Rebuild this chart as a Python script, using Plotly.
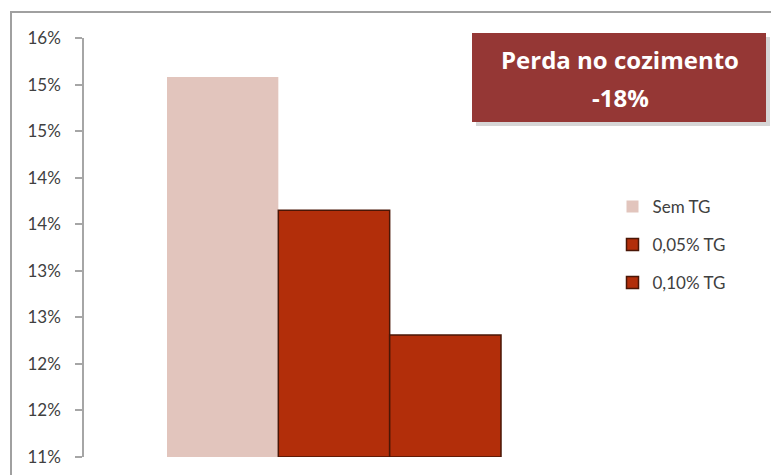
import plotly.graph_objects as go

categories = [""]
series_names = ["Sem TG", "0,05% TG", "0,10% TG"]
series_values = [15.08, 13.65, 12.31]
tick_vals = [11.0, 11.5, 12.0, 12.5, 13.0, 13.5, 14.0, 14.5, 15.0, 15.5]
tick_labels = ["11%", "12%", "12%", "13%", "13%", "14%", "14%", "15%", "15%", "16%"]
box_title = "Perda no cozimento"
box_value = "-18%"

colors = ["#E2C5BD", "#B22E0A", "#B22E0A"]
line_colors = ["#E2C5BD", "#4A1606", "#4A1606"]

FONT = "Lato"

fig = go.Figure()
for i, (name, val) in enumerate(zip(series_names, series_values)):
    fig.add_trace(go.Bar(
        x=categories, y=[val - 11.0], base=11.0, name=name,
        marker=dict(color=colors[i], line=dict(color=line_colors[i], width=1.5 if i else 0)),
        legendgroup=f"g{i}",
    ))

OFF = 8  # page body margin
WW, WH = 779, 475
W, H = WW - OFF, WH - OFF
# plot area in window pixels: x 84..584, y 38..457
L = 84 - OFF
T = 38 - OFF
B = H - (457 - OFF)
R = W - (584 - OFF)

fig.update_layout(
    width=W, height=H,
    margin=dict(l=L, r=R, t=T, b=B, autoexpand=False),
    paper_bgcolor="white", plot_bgcolor="white",
    barmode="group", bargap=0.332, bargroupgap=0,
    font=dict(family=FONT, color="#404040", size=17),
    showlegend=True,
    legend=dict(x=1.057, y=0.64, xanchor="left", yanchor="top",
                traceorder="grouped", tracegroupgap=13,
                font=dict(size=17, color="#404040", family=FONT),
                bgcolor="rgba(0,0,0,0)"),
    xaxis=dict(showline=False, showticklabels=False, ticks="", showgrid=False, zeroline=False),
    yaxis=dict(range=[11.0, 15.5], tickvals=tick_vals, ticktext=tick_labels,
               showline=True, linecolor="#A6A6A6", linewidth=1.5,
               ticks="outside", ticklen=7, tickcolor="#A6A6A6", tickwidth=1.5,
               showgrid=False, zeroline=False, ticklabelstandoff=11),
)

pw = W - L - R
ph = H - T - B
def px(xp):
    return (xp - 84) / pw
def py(yp):
    return (457 - yp) / ph

# outer frame
fig.add_shape(type="rect", xref="paper", yref="paper",
              x0=px(11), x1=px(820), y0=py(520), y1=py(12),
              line=dict(color="#A0A0A0", width=2), fillcolor="rgba(0,0,0,0)", layer="below")
# title box shadow
fig.add_shape(type="rect", xref="paper", yref="paper",
              x0=px(476), x1=px(770), y0=py(126), y1=py(37),
              line=dict(width=0), fillcolor="rgba(0,0,0,0.16)")
fig.add_shape(type="rect", xref="paper", yref="paper",
              x0=px(472), x1=px(766), y0=py(122), y1=py(33),
              line=dict(width=0), fillcolor="#953735")
fig.add_annotation(xref="paper", yref="paper", x=px(620), y=py(60),
                   xanchor="center", yanchor="middle",
                   text=f"<b>{box_title}</b>", showarrow=False,
                   font=dict(size=24, color="white", family="Open Sans"))
fig.add_annotation(xref="paper", yref="paper", x=px(620), y=py(97),
                   xanchor="center", yanchor="middle",
                   text=f"<b>{box_value}</b>", showarrow=False,
                   font=dict(size=24, color="white", family="Open Sans"))

fig.write_html("out.html")
